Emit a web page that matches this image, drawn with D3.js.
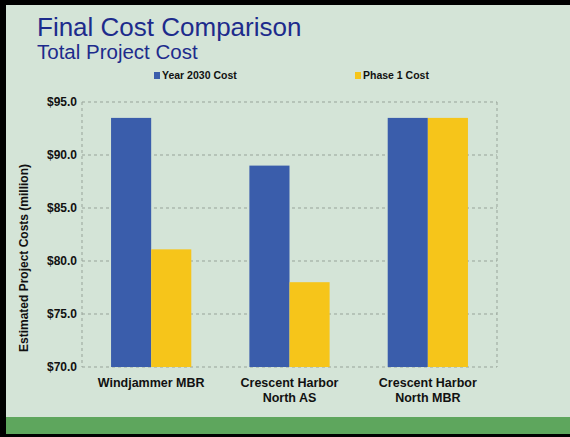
<!DOCTYPE html>
<html>
<head>
<meta charset="utf-8">
<script src="https://cdn.jsdelivr.net/npm/d3@7/dist/d3.min.js"></script>
<style>
  body { margin: 0; background: #000; }
  svg { display: block; }
  text { font-family: "Liberation Sans", Arial, sans-serif; }
</style>
</head>
<body>
<svg id="chart" width="570" height="437"></svg>
<script>
var categories = [["Windjammer MBR"], ["Crescent Harbor", "North AS"], ["Crescent Harbor", "North MBR"]];
var seriesNames = ["Year 2030 Cost", "Phase 1 Cost"];
var year2030 = [93.5, 89.0, 93.5];
var phase1 = [81.1, 78.0, 93.5];
var yTicks = [70, 75, 80, 85, 90, 95];

window.onload = function() {
    var svg = d3.select("#chart");
    var colors = ["#3a5dab", "#f6c51a"];

    // slide background + frame
    svg.append("rect").attr("x", 6).attr("y", 5).attr("width", 564).attr("height", 429).attr("fill", "#d4e4d7");
    svg.append("rect").attr("x", 6).attr("y", 417).attr("width", 564).attr("height", 17).attr("fill", "#5ea65d");

    var margin = {left: 82, right: 497, top: 102, bottom: 367};

    var x0 = d3.scaleBand().domain(d3.range(categories.length))
        .range([margin.left, margin.right]).paddingInner(0.42).paddingOuter(0.21);
    var x1 = d3.scaleBand().domain([0, 1]).range([0, x0.bandwidth()]);
    var y = d3.scaleLinear().domain([70, 95]).range([margin.bottom, margin.top]);

    // grid
    svg.append("g").selectAll("line").data(yTicks).enter().append("line")
        .attr("x1", margin.left).attr("x2", margin.right)
        .attr("y1", function(d) { return y(d); }).attr("y2", function(d) { return y(d); })
        .attr("stroke", "#97a399").attr("stroke-width", 1).attr("stroke-dasharray", "3,3");
    [margin.left, margin.right].forEach(function(xx) {
        svg.append("line").attr("x1", xx).attr("x2", xx).attr("y1", margin.top).attr("y2", margin.bottom)
            .attr("stroke", "#97a399").attr("stroke-dasharray", "3,3");
    });

    // bars
    var series = [year2030, phase1];
    var group = svg.append("g").selectAll("g").data(categories).enter().append("g")
        .attr("transform", function(d, i) { return "translate(" + x0(i) + ",0)"; });
    group.selectAll("rect").data(function(d, i) { return [series[0][i], series[1][i]]; })
        .enter().append("rect")
        .attr("x", function(d, j) { return x1(j); })
        .attr("width", x1.bandwidth())
        .attr("y", function(d) { return y(d); })
        .attr("height", function(d) { return y(70) - y(d); })
        .attr("fill", function(d, j) { return colors[j]; });

    // y axis labels
    var yAxis = d3.axisLeft(y).tickValues(yTicks).tickSize(0).tickPadding(5)
        .tickFormat(function(d) { return "$" + d3.format(".1f")(d); });
    var ya = svg.append("g").attr("transform", "translate(" + margin.left + ",0)").call(yAxis);
    ya.select(".domain").remove();
    ya.selectAll("text").attr("font-size", 12).attr("font-weight", "bold").attr("fill", "#111")
        .attr("font-family", "Liberation Sans, Arial, sans-serif");

    // x labels
    var xl = svg.append("g").selectAll("text").data(categories).enter().append("text")
        .attr("x", function(d, i) { return x0(i) + x0.bandwidth() / 2; })
        .attr("y", 387).attr("text-anchor", "middle")
        .attr("font-size", 12.5).attr("font-weight", "bold").attr("fill", "#111");
    xl.selectAll("tspan").data(function(d) { return d; }).enter().append("tspan")
        .attr("x", function() { return d3.select(this.parentNode).attr("x"); })
        .attr("dy", function(d, i) { return i === 0 ? 0 : 15; })
        .text(function(d) { return d; });

    // y title
    svg.append("text").attr("transform", "translate(28,258) rotate(-90)")
        .attr("text-anchor", "middle").attr("font-size", 12).attr("font-weight", "bold").attr("fill", "#111")
        .text("Estimated Project Costs (million)");

    // titles
    svg.append("text").attr("x", 37).attr("y", 36).attr("font-size", 26).attr("fill", "#1d2b8c")
        .text("Final Cost Comparison");
    svg.append("text").attr("x", 37).attr("y", 59).attr("font-size", 20.5).attr("fill", "#1d2b8c")
        .text("Total Project Cost");

    // legend
    var legendX = [154, 355];
    var leg = svg.append("g").selectAll("g").data(seriesNames).enter().append("g")
        .attr("transform", function(d, i) { return "translate(" + legendX[i] + ",79)"; });
    leg.append("rect").attr("x", 0).attr("y", -7).attr("width", 6).attr("height", 7)
        .attr("fill", function(d, i) { return colors[i]; });
    leg.append("text").attr("x", 8).attr("y", 0).attr("font-size", 10.5).attr("font-weight", "bold")
        .attr("fill", "#111").text(function(d) { return d; });
};
</script>
</body>
</html>
